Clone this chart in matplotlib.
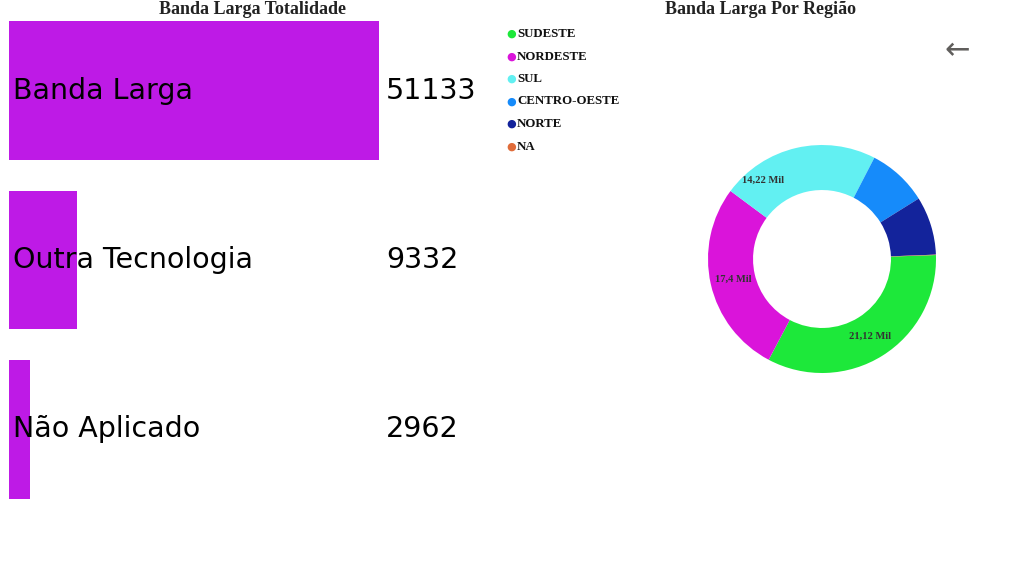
import numpy as np
import matplotlib.pyplot as plt

# dados
categorias = ['Banda Larga', 'Outra Tecnologia', 'Não Aplicado']
totais = [51133, 9332, 2962]

regioes = ['SUDESTE', 'NORDESTE', 'SUL', 'CENTRO-OESTE', 'NORTE', 'NA']
valores_regiao = [21120, 17400, 14220, 5400, 5250, 37]
rotulos_regiao = ['21,12 Mil', '17,4 Mil', '14,22 Mil', '', '', '']
cores_regiao = ['#1de83a', '#da14da', '#62f0f2', '#168bfa', '#13239b', '#e06c3a']

cor_barra = '#be1ae6'
W, H = 1012, 561

fig = plt.figure(figsize=(W / 100, H / 100), dpi=100)
fig.patch.set_facecolor('white')

# --- barras horizontais ---
ax1 = fig.add_axes([9 / W, 1 - 514 / H, 471 / W, 508 / H])
y = np.arange(len(categorias))
ax1.barh(y, totais, height=0.82, color=cor_barra)
ax1.set_xlim(0, max(totais) * 471 / 370)
ax1.set_ylim(len(categorias) - 0.5, -0.5)
ax1.axis('off')
for i in range(len(categorias)):
    ax1.text(4 / 471, y[i], categorias[i], transform=ax1.get_yaxis_transform(),
             fontsize=20.5, va='center', ha='left', color='black', family='DejaVu Sans')
    ax1.text(377 / 471, y[i], str(totais[i]), transform=ax1.get_yaxis_transform(),
             fontsize=20.5, va='center', ha='left', color='black', family='DejaVu Sans')

fig.text(253 / W, 1 - 10 / H, 'Banda Larga Totalidade', ha='center', va='center',
         fontsize=13, fontweight='bold', family='Liberation Serif', color='#222222')

# --- rosca ---
cx, cy, r = 822, 259, 114
ax2 = fig.add_axes([(cx - r) / W, 1 - (cy + r) / H, 2 * r / W, 2 * r / H])
wedges, _ = ax2.pie(valores_regiao, colors=cores_regiao, startangle=2, counterclock=False,
                    radius=1, wedgeprops=dict(width=0.395, linewidth=0))
ax2.set_xlim(-1, 1)
ax2.set_ylim(-1, 1)
ax2.set_aspect('equal')
ajuste = {2: 24}
for i, w in enumerate(wedges):
    if not rotulos_regiao[i]:
        continue
    ang = np.deg2rad((w.theta1 + w.theta2) / 2 + ajuste.get(i, 0))
    rr = 0.8 if i != 2 else 0.86
    ax2.text(rr * np.cos(ang), rr * np.sin(ang), rotulos_regiao[i], ha='center', va='center',
             fontsize=7.6, fontweight='bold', family='Liberation Serif', color='#333333')

fig.text(761 / W, 1 - 10 / H, 'Banda Larga Por Região', ha='center', va='center',
         fontsize=13, fontweight='bold', family='Liberation Serif', color='#222222')

# legenda
for i, nome in enumerate(regioes):
    yy = 1 - (34 + i * 22.5) / H
    fig.text(511 / W, yy, '●', color=cores_regiao[i], ha='center', va='center',
             fontsize=8, family='DejaVu Sans')
    fig.text(517 / W, yy, nome, ha='left', va='center', fontsize=9.3,
             fontweight='bold', family='Liberation Serif', color='#111111')

# seta voltar
fig.text(957 / W, 1 - 51 / H, '←', ha='center', va='center', fontsize=22,
         color='#605e5c', family='DejaVu Sans')

fig.savefig('out.png', dpi=100, facecolor='white')
